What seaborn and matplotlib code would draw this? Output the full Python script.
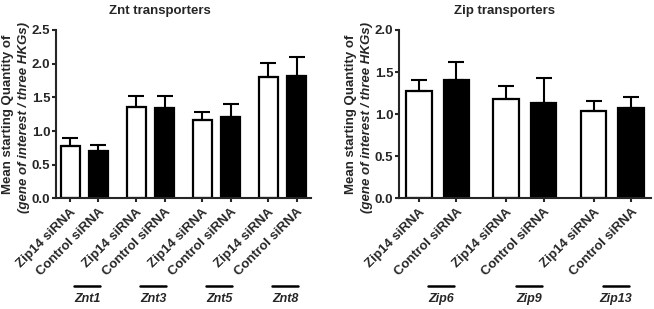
import matplotlib
matplotlib.use("Agg")
import matplotlib.pyplot as plt
import matplotlib.transforms as mtransforms
import numpy as np
import pandas as pd
import seaborn as sns

# values
treatments = ["Zip14 siRNA", "Control siRNA"]

znt_genes = ["Znt1", "Znt3", "Znt5", "Znt8"]
znt_means = [0.78, 0.71, 1.35, 1.345, 1.16, 1.21, 1.80, 1.815]
znt_errs = [0.11, 0.085, 0.17, 0.175, 0.125, 0.185, 0.205, 0.285]

zip_genes = ["Zip6", "Zip9", "Zip13"]
zip_means = [1.28, 1.40, 1.185, 1.13, 1.04, 1.07]
zip_errs = [0.13, 0.22, 0.145, 0.30, 0.12, 0.13]

sns.set_style("ticks")
plt.rcParams["font.family"] = ["Liberation Sans", "DejaVu Sans"]
plt.rcParams["font.weight"] = "bold"
plt.rcParams["font.size"] = 9.5
plt.rcParams["axes.linewidth"] = 1.5
plt.rcParams["xtick.major.width"] = 1.5
plt.rcParams["ytick.major.width"] = 1.5
plt.rcParams["xtick.major.size"] = 3
plt.rcParams["ytick.major.size"] = 3
plt.rcParams["ytick.major.pad"] = 1
plt.rcParams["xtick.major.pad"] = 2.5


def make_frame(genes, means, errs):
    rows = []
    for i, g in enumerate(genes):
        for j, t in enumerate(treatments):
            k = 2 * i + j
            rows.append({"gene": g, "treatment": t, "pos": i * 2.33 + j,
                         "mean": means[k], "err": errs[k]})
    return pd.DataFrame(rows)


def panel(ax, df, title, ymax, xlim, line_half, title_x):
    sns.barplot(data=df, x="pos", y="mean", hue="treatment",
                native_scale=True, width=0.68, errorbar=None,
                palette={"Zip14 siRNA": "white", "Control siRNA": "black"},
                edgecolor="black", linewidth=1.6, legend=False, ax=ax)
    ax.errorbar(df["pos"], df["mean"],
                yerr=[np.zeros(len(df)), df["err"]],
                fmt="none", ecolor="black", elinewidth=1.5,
                capsize=5.5, capthick=1.5)
    ax.set_xlim(*xlim)
    ax.set_ylim(0, ymax)
    ax.set_yticks(np.arange(0, ymax + 0.01, 0.5))
    ax.set_yticklabels([f"{v:.1f}" for v in np.arange(0, ymax + 0.01, 0.5)])
    ax.set_xticks(df["pos"])
    ax.set_xticklabels(df["treatment"], rotation=45, ha="right",
                       rotation_mode="anchor")
    ax.set_xlabel("")
    ax.set_ylabel("")
    sns.despine(ax=ax)

    # y label in two lines
    ax.text(-0.19, 0.5, "Mean starting Quantity of", rotation=90,
            transform=ax.transAxes, ha="center", va="center", fontsize=9.5)
    ax.text(-0.125, 0.48, "(gene of interest / three HKGs)", rotation=90,
            transform=ax.transAxes, ha="center", va="center", fontsize=9.5,
            style="italic")

    # gene group labels with underline
    trans = mtransforms.blended_transform_factory(ax.transData, ax.transAxes)
    centers = df.groupby("gene", sort=False)["pos"].mean() + 0.1
    for g, c in centers.items():
        ax.plot([c - line_half, c + line_half], [-0.52, -0.52], color="black",
                lw=1.8, transform=trans, clip_on=False)
        ax.text(c, -0.6, g, transform=trans, ha="center", va="center",
                style="italic", fontsize=9)

    fig.text(title_x, 0.965, title, ha="center", va="center", fontsize=9.5)


fig = plt.figure(figsize=(6.54, 3.09), dpi=100)
ax1 = fig.add_axes([0.0856, 0.358, 0.39, 0.545])
ax2 = fig.add_axes([0.610, 0.358, 0.386, 0.545])

panel(ax1, make_frame(znt_genes, znt_means, znt_errs), "Znt transporters",
      2.5, (-0.5, 8.5), 0.46, 160 / 654)
panel(ax2, make_frame(zip_genes, zip_means, zip_errs), "Zip transporters",
      2.0, (-0.53, 6.2), 0.35, 505 / 654)

fig.savefig("out.png", dpi=100)
